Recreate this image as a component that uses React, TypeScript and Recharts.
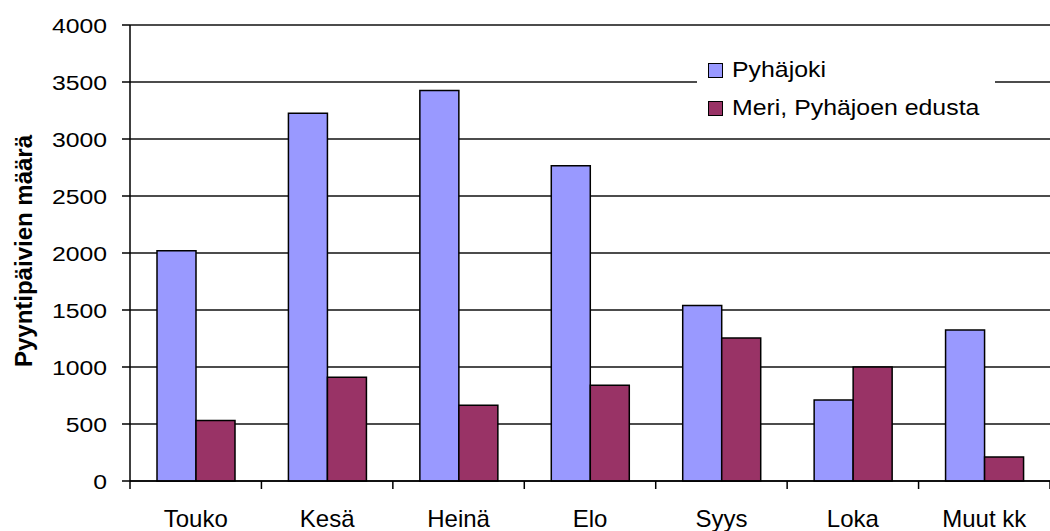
import { BarChart, Bar, XAxis, YAxis, CartesianGrid, Legend } from 'recharts';

const months = ['Touko', 'Kesä', 'Heinä', 'Elo', 'Syys', 'Loka', 'Muut kk'];
const pyhajoki = [2020, 3225, 3425, 2765, 1540, 710, 1325];
const meri = [530, 910, 665, 840, 1255, 1000, 210];
const yTicks = [0, 500, 1000, 1500, 2000, 2500, 3000, 3500, 4000];

const data = months.map((name, i) => ({ name, pyhajoki: pyhajoki[i], meri: meri[i] }));

const FONT = '"Liberation Sans", Arial, sans-serif';
const CHART_W = 1050;
const CHART_H = 531;
const Y_AXIS_W = 130;
const BAND = (CHART_W - Y_AXIS_W) / months.length;

function YTick({ x, y, payload }: any) {
  return (
    <text
      transform={`translate(${x},${y}) scale(1.18,1)`}
      textAnchor="end"
      dy="0.36em"
      fontSize={21}
      fontFamily={FONT}
      fill="#000"
    >
      {payload.value}
    </text>
  );
}

function XTick({ x, y, payload, index }: any) {
  const last = index === months.length - 1;
  return (
    <g>
      <line x1={x - BAND / 2} x2={x - BAND / 2} y1={y} y2={y + 8} stroke="#000" strokeWidth={1.5} />
      {last && <line x1={x + BAND / 2} x2={x + BAND / 2} y1={y} y2={y + 8} stroke="#000" strokeWidth={1.5} />}
      <text x={x} y={y + 46} textAnchor="middle" fontSize={24} fontFamily={FONT} fill="#000">
        {payload.value}
      </text>
    </g>
  );
}

function YLabel({ viewBox }: any) {
  const cy = viewBox.y + viewBox.height / 2;
  return (
    <text
      transform={`translate(32,${cy - 2}) rotate(-90)`}
      textAnchor="middle"
      fontSize={24}
      fontWeight="bold"
      fontFamily={FONT}
      fill="#000"
    >
      Pyyntipäivien määrä
    </text>
  );
}

const legendItems = [
  { label: 'Pyhäjoki', color: '#9999ff' },
  { label: 'Meri, Pyhäjoen edusta', color: '#993366' },
];

function LegendBox() {
  return (
    <div style={{ position: 'relative', width: 298, height: 82, background: '#fff' }}>
      {legendItems.map((item, i) => (
        <div key={item.label}>
          <div
            style={{
              position: 'absolute',
              left: 11,
              top: 8 + i * 38,
              width: 13,
              height: 13,
              background: item.color,
              border: '1.5px solid #000',
            }}
          />
          <div
            style={{
              position: 'absolute',
              left: 35,
              top: 2 + i * 38,
              fontSize: 22,
              lineHeight: '26px',
              fontFamily: FONT,
              color: '#000',
              whiteSpace: 'nowrap',
              transform: 'scaleX(1.13)',
              transformOrigin: 'left center',
            }}
          >
            {item.label}
          </div>
        </div>
      ))}
    </div>
  );
}

export default function App() {
  return (
    <div style={{ position: 'absolute', left: 0, top: 0, width: CHART_W, height: CHART_H, background: '#fff' }}>
      <BarChart
        width={CHART_W}
        height={CHART_H}
        data={data}
        margin={{ top: 25, right: 0, left: 0, bottom: 0 }}
        barCategoryGap={27}
        barGap={0}
      >
        <CartesianGrid vertical={false} stroke="#111" strokeWidth={1.5} />
        <XAxis
          dataKey="name"
          height={50}
          axisLine={{ stroke: '#000', strokeWidth: 1.5 }}
          tickLine={false}
          tickSize={0}
          tickMargin={0}
          tick={<XTick />}
          interval={0}
        />
        <YAxis
          width={Y_AXIS_W}
          domain={[0, 4000]}
          ticks={yTicks}
          interval={0}
          axisLine={{ stroke: '#000', strokeWidth: 1.5 }}
          tickLine={{ stroke: '#000', strokeWidth: 1.5 }}
          tickSize={8}
          tickMargin={15}
          tick={<YTick />}
          label={<YLabel />}
        />
        <Legend
          layout="vertical"
          align="center"
          verticalAlign="middle"
          content={<LegendBox />}
          wrapperStyle={{ left: 697, top: 55, width: 298, height: 82 }}
        />
        <Bar dataKey="pyhajoki" name="Pyhäjoki" fill="#9999ff" stroke="#000" strokeWidth={1.5} isAnimationActive={false} />
        <Bar dataKey="meri" name="Meri, Pyhäjoen edusta" fill="#993366" stroke="#000" strokeWidth={1.5} isAnimationActive={false} />
      </BarChart>
    </div>
  );
}
